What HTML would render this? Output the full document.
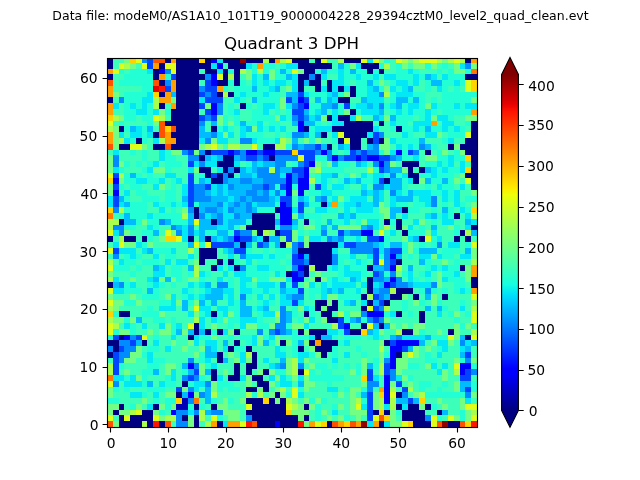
<!DOCTYPE html>
<html lang="en"><head><meta charset="utf-8"><title>Quadrant 3 DPH</title>
<style>
html,body{margin:0;padding:0;background:#fff;}
body{width:640px;height:480px;overflow:hidden;}
svg{display:block;}
text{font-family:"DejaVu Sans","Liberation Sans",sans-serif;fill:#000;}
.t{font-size:13.89px;}
</style></head>
<body>
<svg width="640" height="480" viewBox="0 0 640 480">
<rect width="640" height="480" fill="#fff"/>
<text x="320.5" y="19.8" font-size="12.5px" text-anchor="middle">Data file: modeM0/AS1A10_101T19_9000004228_29394cztM0_level2_quad_clean.evt</text>
<text x="291.5" y="49.2" font-size="16.67px" text-anchor="middle">Quadrant 3 DPH</text>
<g shape-rendering="crispEdges">
<path fill="#000080" d="M107 58h6v5h-6zM165 58h6v5h-6zM176 58h23v5h-23zM205 58h6v5h-6zM223 58h17v5h-17zM246 58h17v5h-17zM269 58h6v5h-6zM292 58h17v5h-17zM315 58h6v5h-6zM344 58h17v5h-17zM465 58h6v5h-6zM107 63h6v6h-6zM159 63h6v6h-6zM176 63h35v6h-35zM228 63h18v6h-18zM298 63h34v6h-34zM361 63h18v6h-18zM153 69h6v5h-6zM176 69h23v5h-23zM205 69h12v5h-12zM223 69h5v5h-5zM234 69h6v5h-6zM304 69h11v5h-11zM367 69h6v5h-6zM379 69h5v5h-5zM107 74h6v6h-6zM153 74h6v6h-6zM176 74h29v6h-29zM223 74h5v6h-5zM234 74h6v6h-6zM298 74h11v6h-11zM315 74h6v6h-6zM465 74h12v6h-12zM159 80h6v6h-6zM176 80h23v6h-23zM217 80h11v6h-11zM234 80h6v6h-6zM298 80h6v6h-6zM309 80h12v6h-12zM327 80h5v6h-5zM176 86h23v6h-23zM298 86h6v6h-6zM315 86h6v6h-6zM327 86h5v6h-5zM338 86h6v6h-6zM350 86h6v6h-6zM159 92h6v5h-6zM176 92h23v5h-23zM217 92h6v5h-6zM228 92h6v5h-6zM350 92h6v5h-6zM107 97h6v6h-6zM176 97h23v6h-23zM338 97h12v6h-12zM159 103h6v6h-6zM176 103h23v6h-23zM240 103h6v6h-6zM171 109h28v6h-28zM350 109h6v6h-6zM171 115h28v6h-28zM327 115h5v6h-5zM338 115h12v6h-12zM165 121h34v5h-34zM344 121h29v5h-29zM379 121h5v5h-5zM471 121h6v5h-6zM119 126h5v6h-5zM176 126h23v6h-23zM211 126h6v6h-6zM304 126h5v6h-5zM332 126h41v6h-41zM396 126h6v6h-6zM471 126h6v6h-6zM153 132h6v6h-6zM171 132h28v6h-28zM321 132h6v6h-6zM344 132h23v6h-23zM471 132h6v6h-6zM136 138h6v6h-6zM176 138h23v6h-23zM338 138h6v6h-6zM350 138h11v6h-11zM367 138h6v6h-6zM379 138h5v6h-5zM465 138h12v6h-12zM119 144h11v6h-11zM153 144h12v6h-12zM171 144h28v6h-28zM263 144h12v6h-12zM327 144h5v6h-5zM350 144h11v6h-11zM448 144h6v6h-6zM460 144h17v6h-17zM205 150h6v5h-6zM425 150h6v5h-6zM465 150h12v5h-12zM199 155h6v6h-6zM223 155h11v6h-11zM269 155h6v6h-6zM471 155h6v6h-6zM217 161h17v6h-17zM402 161h17v6h-17zM471 161h6v6h-6zM199 167h12v6h-12zM223 167h5v6h-5zM234 167h6v6h-6zM408 167h5v6h-5zM419 167h6v6h-6zM471 167h6v6h-6zM205 173h6v5h-6zM217 173h6v5h-6zM228 173h6v5h-6zM408 173h11v5h-11zM465 173h12v5h-12zM211 178h12v6h-12zM384 178h6v6h-6zM413 178h6v6h-6zM471 178h6v6h-6zM471 184h6v6h-6zM321 202h6v5h-6zM194 207h5v6h-5zM275 207h5v6h-5zM402 207h6v6h-6zM194 213h5v6h-5zM252 213h23v6h-23zM454 213h6v6h-6zM119 219h5v6h-5zM211 219h6v6h-6zM252 219h23v6h-23zM304 219h5v6h-5zM384 219h6v6h-6zM396 219h6v6h-6zM246 225h29v5h-29zM396 225h6v5h-6zM471 225h6v5h-6zM257 230h6v6h-6zM275 230h5v6h-5zM402 230h6v6h-6zM460 230h5v6h-5zM107 236h6v6h-6zM124 236h12v6h-12zM142 236h5v6h-5zM188 236h6v6h-6zM205 236h6v6h-6zM263 236h6v6h-6zM419 236h6v6h-6zM454 236h6v6h-6zM465 236h6v6h-6zM240 242h6v6h-6zM280 242h6v6h-6zM309 242h29v6h-29zM199 248h18v6h-18zM298 248h34v6h-34zM199 254h18v5h-18zM309 254h23v5h-23zM199 259h6v6h-6zM217 259h6v6h-6zM228 259h6v6h-6zM309 259h23v6h-23zM396 259h6v6h-6zM211 265h6v6h-6zM234 265h6v6h-6zM304 265h5v6h-5zM315 265h12v6h-12zM367 265h6v6h-6zM460 265h5v6h-5zM286 271h6v6h-6zM304 271h5v6h-5zM315 277h6v5h-6zM367 277h6v5h-6zM471 277h6v5h-6zM107 282h6v6h-6zM367 282h6v6h-6zM471 282h6v6h-6zM367 288h6v6h-6zM396 288h17v6h-17zM361 294h6v6h-6zM390 294h12v6h-12zM413 294h6v6h-6zM442 294h6v6h-6zM315 300h12v6h-12zM332 300h6v6h-6zM367 300h6v6h-6zM384 300h6v6h-6zM315 306h6v5h-6zM327 306h11v5h-11zM361 306h6v5h-6zM119 311h11v6h-11zM211 311h6v6h-6zM304 311h5v6h-5zM321 311h11v6h-11zM396 311h6v6h-6zM419 311h6v6h-6zM327 317h11v6h-11zM419 317h6v6h-6zM194 323h5v6h-5zM361 323h6v6h-6zM379 323h5v6h-5zM194 329h5v6h-5zM205 329h6v6h-6zM217 329h6v6h-6zM234 329h6v6h-6zM298 329h6v6h-6zM309 329h18v6h-18zM350 329h11v6h-11zM402 329h11v6h-11zM448 329h6v6h-6zM119 335h5v5h-5zM188 335h6v5h-6zM315 335h6v5h-6zM465 335h6v5h-6zM107 340h12v6h-12zM142 340h5v6h-5zM234 340h6v6h-6zM280 340h6v6h-6zM309 340h6v6h-6zM321 340h17v6h-17zM384 340h6v6h-6zM113 346h6v6h-6zM228 346h6v6h-6zM246 346h6v6h-6zM298 346h6v6h-6zM315 346h17v6h-17zM107 352h6v6h-6zM217 352h6v6h-6zM252 352h5v6h-5zM321 352h6v6h-6zM396 352h6v6h-6zM217 358h6v5h-6zM252 358h5v5h-5zM234 363h6v6h-6zM246 363h11v6h-11zM211 369h6v6h-6zM234 369h6v6h-6zM246 369h6v6h-6zM263 369h6v6h-6zM298 369h6v6h-6zM211 375h6v6h-6zM228 375h12v6h-12zM252 375h11v6h-11zM182 381h6v6h-6zM257 381h12v6h-12zM246 387h11v5h-11zM263 387h6v5h-6zM176 392h6v6h-6zM275 392h5v6h-5zM396 392h6v6h-6zM246 398h17v6h-17zM269 398h6v6h-6zM280 398h6v6h-6zM119 404h5v6h-5zM153 404h6v6h-6zM194 404h5v6h-5zM211 404h6v6h-6zM252 404h34v6h-34zM304 404h5v6h-5zM396 404h6v6h-6zM408 404h11v6h-11zM425 404h6v6h-6zM113 410h6v5h-6zM142 410h11v5h-11zM246 410h40v5h-40zM373 410h6v5h-6zM384 410h6v5h-6zM402 410h23v5h-23zM437 410h5v5h-5zM119 415h5v6h-5zM130 415h23v6h-23zM182 415h6v6h-6zM194 415h5v6h-5zM252 415h46v6h-46zM304 415h5v6h-5zM402 415h23v6h-23zM119 421h23v6h-23zM147 421h6v6h-6zM159 421h6v6h-6zM194 421h5v6h-5zM217 421h6v6h-6zM257 421h18v6h-18zM280 421h18v6h-18zM327 421h5v6h-5zM379 421h5v6h-5zM413 421h18v6h-18zM448 421h12v6h-12z"/>
<path fill="#0000fa" d="M211 58h6v5h-6zM217 63h6v6h-6zM159 69h6v5h-6zM211 74h6v6h-6zM211 80h6v6h-6zM298 97h6v6h-6zM211 103h6v6h-6zM304 103h5v6h-5zM211 109h6v6h-6zM298 121h6v5h-6zM298 126h6v6h-6zM228 150h6v5h-6zM246 150h11v5h-11zM263 150h12v5h-12zM321 150h6v5h-6zM396 150h6v5h-6zM332 155h6v6h-6zM356 155h5v6h-5zM367 155h12v6h-12zM309 161h6v6h-6zM379 161h5v6h-5zM304 167h5v6h-5zM286 173h6v5h-6zM304 173h5v5h-5zM113 178h6v6h-6zM286 178h6v6h-6zM298 178h11v6h-11zM286 184h6v6h-6zM298 184h11v6h-11zM113 190h6v6h-6zM286 190h6v6h-6zM298 190h6v6h-6zM280 202h6v5h-6zM280 207h12v6h-12zM280 213h12v6h-12zM280 219h12v6h-12zM361 230h12v6h-12zM234 236h6v6h-6zM379 236h5v6h-5zM298 254h6v5h-6zM390 254h6v5h-6zM298 265h6v6h-6zM390 265h6v6h-6zM292 271h6v6h-6zM292 277h12v5h-12zM390 277h6v5h-6zM384 282h6v6h-6zM367 311h17v6h-17zM344 323h6v6h-6zM124 335h6v5h-6zM396 340h23v6h-23zM390 346h12v6h-12zM390 352h6v6h-6zM390 358h6v5h-6zM188 363h6v6h-6zM390 363h6v6h-6zM460 363h11v6h-11zM460 369h5v6h-5zM384 375h6v6h-6zM384 381h6v6h-6zM384 387h6v5h-6zM188 392h6v6h-6zM384 392h6v6h-6zM384 398h6v6h-6zM171 410h5v5h-5zM275 421h5v6h-5z"/>
<path fill="#0044ff" d="M147 58h6v5h-6zM147 63h6v6h-6zM171 74h5v6h-5zM205 80h6v6h-6zM165 86h6v6h-6zM205 86h12v6h-12zM199 92h6v5h-6zM211 92h6v5h-6zM298 92h6v5h-6zM205 97h18v6h-18zM286 97h6v6h-6zM304 97h5v6h-5zM199 103h6v6h-6zM298 103h6v6h-6zM344 103h6v6h-6zM205 109h6v6h-6zM292 109h12v6h-12zM199 115h6v6h-6zM211 115h6v6h-6zM298 115h6v6h-6zM373 132h6v6h-6zM373 138h6v6h-6zM315 144h6v6h-6zM188 150h6v5h-6zM211 150h17v5h-17zM234 150h6v5h-6zM257 150h6v5h-6zM275 150h17v5h-17zM298 150h17v5h-17zM350 150h6v5h-6zM361 150h6v5h-6zM408 150h5v5h-5zM246 155h11v6h-11zM263 155h6v6h-6zM304 155h11v6h-11zM344 155h12v6h-12zM361 155h6v6h-6zM379 155h11v6h-11zM188 161h6v6h-6zM304 161h5v6h-5zM292 167h12v6h-12zM379 167h5v6h-5zM113 173h6v5h-6zM188 173h6v5h-6zM211 173h6v5h-6zM298 173h6v5h-6zM188 178h6v6h-6zM379 178h5v6h-5zM113 184h6v6h-6zM188 184h6v6h-6zM205 184h6v6h-6zM263 184h6v6h-6zM280 184h6v6h-6zM315 184h6v6h-6zM188 190h6v6h-6zM113 196h6v6h-6zM188 196h6v6h-6zM280 196h12v6h-12zM113 202h6v5h-6zM188 202h6v5h-6zM286 202h6v5h-6zM298 202h6v5h-6zM298 207h6v6h-6zM234 230h6v6h-6zM280 230h12v6h-12zM338 230h6v6h-6zM240 236h12v6h-12zM286 236h6v6h-6zM367 236h12v6h-12zM211 242h23v6h-23zM257 242h6v6h-6zM298 242h6v6h-6zM344 242h12v6h-12zM113 248h6v6h-6zM234 248h12v6h-12zM373 248h6v6h-6zM390 248h12v6h-12zM292 254h6v5h-6zM373 254h6v5h-6zM292 259h12v6h-12zM373 259h6v6h-6zM390 259h6v6h-6zM298 271h6v6h-6zM373 271h6v6h-6zM292 282h6v6h-6zM390 282h6v6h-6zM298 288h6v6h-6zM373 294h6v6h-6zM292 300h6v6h-6zM379 300h5v6h-5zM373 306h6v5h-6zM338 317h6v6h-6zM373 317h6v6h-6zM338 323h6v6h-6zM275 329h5v6h-5zM344 329h6v6h-6zM113 335h6v5h-6zM136 335h6v5h-6zM130 340h6v6h-6zM390 340h6v6h-6zM119 346h5v6h-5zM402 346h6v6h-6zM113 352h6v6h-6zM465 352h6v6h-6zM113 358h6v5h-6zM113 363h6v6h-6zM384 363h6v6h-6zM113 369h6v6h-6zM194 369h5v6h-5zM367 369h6v6h-6zM384 369h6v6h-6zM465 369h6v6h-6zM188 375h6v6h-6zM367 375h6v6h-6zM460 375h11v6h-11zM396 381h6v6h-6zM176 387h6v5h-6zM402 387h6v5h-6zM465 387h6v5h-6zM367 392h6v6h-6zM367 398h6v6h-6zM408 398h5v6h-5zM367 404h6v6h-6zM367 410h6v5h-6zM367 415h6v6h-6z"/>
<path fill="#008cff" d="M142 58h5v5h-5zM465 63h6v6h-6zM165 69h6v5h-6zM205 74h6v6h-6zM309 74h6v6h-6zM165 80h6v6h-6zM199 86h6v6h-6zM205 92h6v5h-6zM379 92h5v5h-5zM119 97h5v6h-5zM217 103h6v6h-6zM292 103h6v6h-6zM332 103h6v6h-6zM379 103h5v6h-5zM217 109h6v6h-6zM205 115h6v6h-6zM292 115h6v6h-6zM304 115h5v6h-5zM199 121h6v5h-6zM211 132h6v6h-6zM292 132h12v6h-12zM379 132h5v6h-5zM205 138h6v6h-6zM240 138h12v6h-12zM292 144h6v6h-6zM304 144h11v6h-11zM373 144h6v6h-6zM419 144h6v6h-6zM182 150h6v5h-6zM199 150h6v5h-6zM240 150h6v5h-6zM315 150h6v5h-6zM327 150h5v5h-5zM356 150h5v5h-5zM367 150h12v5h-12zM413 150h6v5h-6zM113 155h6v6h-6zM188 155h11v6h-11zM240 155h6v6h-6zM257 155h6v6h-6zM275 155h23v6h-23zM327 155h5v6h-5zM338 155h6v6h-6zM390 155h6v6h-6zM113 161h6v6h-6zM199 161h6v6h-6zM275 161h11v6h-11zM298 161h6v6h-6zM373 161h6v6h-6zM384 161h6v6h-6zM228 167h6v6h-6zM257 167h12v6h-12zM275 167h5v6h-5zM384 167h6v6h-6zM223 173h5v5h-5zM257 173h23v5h-23zM292 173h6v5h-6zM390 173h6v5h-6zM223 178h5v6h-5zM240 178h12v6h-12zM263 178h23v6h-23zM292 178h6v6h-6zM194 184h11v6h-11zM228 184h6v6h-6zM252 184h11v6h-11zM269 184h6v6h-6zM373 184h11v6h-11zM194 190h11v6h-11zM246 190h11v6h-11zM263 190h6v6h-6zM275 190h5v6h-5zM390 190h6v6h-6zM194 196h17v6h-17zM240 196h6v6h-6zM252 196h17v6h-17zM321 196h6v6h-6zM431 196h6v6h-6zM217 202h6v5h-6zM234 202h6v5h-6zM246 202h6v5h-6zM431 202h6v5h-6zM113 207h6v6h-6zM188 207h6v6h-6zM205 207h12v6h-12zM228 207h6v6h-6zM246 207h6v6h-6zM199 213h6v6h-6zM217 213h6v6h-6zM234 213h6v6h-6zM159 219h6v6h-6zM217 219h6v6h-6zM113 225h11v5h-11zM171 225h5v5h-5zM188 225h6v5h-6zM280 225h12v5h-12zM367 225h6v5h-6zM119 230h5v6h-5zM176 230h6v6h-6zM188 230h6v6h-6zM240 230h12v6h-12zM321 230h6v6h-6zM350 230h11v6h-11zM228 236h6v6h-6zM327 236h5v6h-5zM338 236h6v6h-6zM263 242h6v6h-6zM292 242h6v6h-6zM356 242h17v6h-17zM437 242h5v6h-5zM292 248h6v6h-6zM350 248h23v6h-23zM384 248h6v6h-6zM113 254h6v5h-6zM240 254h6v5h-6zM332 254h6v5h-6zM384 254h6v5h-6zM304 259h5v6h-5zM332 259h6v6h-6zM384 259h6v6h-6zM240 265h6v6h-6zM292 265h6v6h-6zM384 265h6v6h-6zM379 271h5v6h-5zM390 271h6v6h-6zM373 277h11v5h-11zM396 277h6v5h-6zM119 282h5v6h-5zM217 282h11v6h-11zM280 282h6v6h-6zM396 282h12v6h-12zM431 282h6v6h-6zM379 288h11v6h-11zM425 288h6v6h-6zM240 294h6v6h-6zM292 294h12v6h-12zM379 294h5v6h-5zM280 306h6v5h-6zM379 306h5v5h-5zM280 311h6v6h-6zM361 311h6v6h-6zM280 317h6v6h-6zM356 317h5v6h-5zM367 317h6v6h-6zM379 317h5v6h-5zM275 323h11v6h-11zM257 329h6v6h-6zM269 329h6v6h-6zM280 329h6v6h-6zM130 335h6v5h-6zM396 335h6v5h-6zM119 340h11v6h-11zM460 340h5v6h-5zM107 346h6v6h-6zM124 346h12v6h-12zM119 352h11v6h-11zM119 358h5v5h-5zM188 358h6v5h-6zM384 358h6v5h-6zM465 358h6v5h-6zM194 363h5v6h-5zM280 363h6v6h-6zM298 363h6v6h-6zM390 369h6v6h-6zM471 369h6v6h-6zM182 375h6v6h-6zM194 375h5v6h-5zM390 375h6v6h-6zM113 381h6v6h-6zM205 381h6v6h-6zM367 381h12v6h-12zM188 387h6v5h-6zM367 387h6v5h-6zM199 392h6v6h-6zM402 392h6v6h-6zM465 392h6v6h-6zM188 398h6v6h-6zM176 410h12v5h-12zM194 410h5v5h-5zM211 410h12v5h-12zM176 415h6v6h-6zM246 415h6v6h-6zM425 415h6v6h-6zM176 421h12v6h-12z"/>
<path fill="#00bcff" d="M338 63h6v6h-6zM280 69h6v5h-6zM321 69h6v5h-6zM350 69h6v5h-6zM263 74h6v6h-6zM286 74h6v6h-6zM425 74h6v6h-6zM304 80h5v6h-5zM367 80h6v6h-6zM431 80h11v6h-11zM252 86h5v6h-5zM275 86h5v6h-5zM373 86h6v6h-6zM408 86h5v6h-5zM171 92h5v5h-5zM286 92h12v5h-12zM332 92h6v5h-6zM252 97h5v6h-5zM292 97h6v6h-6zM315 97h6v6h-6zM327 97h5v6h-5zM361 97h6v6h-6zM396 97h12v6h-12zM413 97h6v6h-6zM321 103h11v6h-11zM367 103h6v6h-6zM396 103h6v6h-6zM304 109h5v6h-5zM321 109h6v6h-6zM379 109h5v6h-5zM315 115h6v6h-6zM373 115h6v6h-6zM390 115h6v6h-6zM211 121h6v5h-6zM240 121h6v5h-6zM292 121h6v5h-6zM304 121h11v5h-11zM130 126h6v6h-6zM147 126h6v6h-6zM199 126h6v6h-6zM246 126h6v6h-6zM425 126h6v6h-6zM199 132h12v6h-12zM304 132h5v6h-5zM315 132h6v6h-6zM292 138h6v6h-6zM419 138h6v6h-6zM298 144h6v6h-6zM321 144h6v6h-6zM338 144h6v6h-6zM367 144h6v6h-6zM425 144h6v6h-6zM205 155h6v6h-6zM217 155h6v6h-6zM234 155h6v6h-6zM396 155h6v6h-6zM252 161h5v6h-5zM263 161h12v6h-12zM332 161h6v6h-6zM356 161h5v6h-5zM240 167h6v6h-6zM252 167h5v6h-5zM280 167h12v6h-12zM390 167h12v6h-12zM425 167h6v6h-6zM130 173h6v5h-6zM240 173h12v5h-12zM332 173h6v5h-6zM199 178h6v6h-6zM228 178h12v6h-12zM252 178h11v6h-11zM344 178h6v6h-6zM356 178h5v6h-5zM390 178h12v6h-12zM425 178h6v6h-6zM442 178h6v6h-6zM217 184h6v6h-6zM234 184h18v6h-18zM390 184h12v6h-12zM205 190h6v6h-6zM217 190h6v6h-6zM228 190h18v6h-18zM257 190h6v6h-6zM361 190h6v6h-6zM373 190h6v6h-6zM408 190h5v6h-5zM119 196h5v6h-5zM182 196h6v6h-6zM211 196h17v6h-17zM234 196h6v6h-6zM246 196h6v6h-6zM269 196h6v6h-6zM298 196h6v6h-6zM315 196h6v6h-6zM373 196h6v6h-6zM396 196h17v6h-17zM124 202h6v5h-6zM199 202h18v5h-18zM228 202h6v5h-6zM240 202h6v5h-6zM257 202h18v5h-18zM304 202h5v5h-5zM356 202h5v5h-5zM373 202h6v5h-6zM199 207h6v6h-6zM217 207h6v6h-6zM234 207h12v6h-12zM252 207h5v6h-5zM390 207h12v6h-12zM442 207h6v6h-6zM124 213h6v6h-6zM188 213h6v6h-6zM211 213h6v6h-6zM240 213h12v6h-12zM298 213h6v6h-6zM338 213h6v6h-6zM350 213h6v6h-6zM390 213h6v6h-6zM431 213h6v6h-6zM124 219h12v6h-12zM165 219h6v6h-6zM188 219h6v6h-6zM199 219h12v6h-12zM228 219h18v6h-18zM275 219h5v6h-5zM292 219h6v6h-6zM327 219h5v6h-5zM465 219h6v6h-6zM176 225h6v5h-6zM199 225h18v5h-18zM228 225h6v5h-6zM321 225h6v5h-6zM332 225h6v5h-6zM361 225h6v5h-6zM431 225h6v5h-6zM153 230h6v6h-6zM199 230h6v6h-6zM217 230h11v6h-11zM344 230h6v6h-6zM471 230h6v6h-6zM199 236h6v6h-6zM211 236h6v6h-6zM223 236h5v6h-5zM252 236h5v6h-5zM269 236h11v6h-11zM332 236h6v6h-6zM413 236h6v6h-6zM188 242h6v6h-6zM234 242h6v6h-6zM246 242h6v6h-6zM275 242h5v6h-5zM373 242h6v6h-6zM390 242h12v6h-12zM147 248h6v6h-6zM228 248h6v6h-6zM419 248h18v6h-18zM465 248h6v6h-6zM304 254h5v5h-5zM396 254h6v5h-6zM419 259h6v6h-6zM153 265h6v6h-6zM188 265h6v6h-6zM373 265h11v6h-11zM408 265h5v6h-5zM153 277h6v5h-6zM165 277h6v5h-6zM350 277h6v5h-6zM384 277h6v5h-6zM113 282h6v6h-6zM205 282h6v6h-6zM379 282h5v6h-5zM408 282h5v6h-5zM147 288h6v6h-6zM211 288h12v6h-12zM280 288h6v6h-6zM327 288h5v6h-5zM338 288h6v6h-6zM373 288h6v6h-6zM205 294h18v6h-18zM286 294h6v6h-6zM384 294h6v6h-6zM425 294h6v6h-6zM182 300h6v6h-6zM199 300h6v6h-6zM211 300h6v6h-6zM240 300h6v6h-6zM350 300h6v6h-6zM373 300h6v6h-6zM182 306h6v5h-6zM240 306h12v5h-12zM263 306h6v5h-6zM425 306h6v5h-6zM437 306h5v5h-5zM240 311h12v6h-12zM286 311h6v6h-6zM136 317h6v6h-6zM286 317h6v6h-6zM350 317h6v6h-6zM373 323h6v6h-6zM384 323h6v6h-6zM176 329h6v6h-6zM188 329h6v6h-6zM199 329h6v6h-6zM286 329h6v6h-6zM367 329h6v6h-6zM321 335h11v5h-11zM390 335h6v5h-6zM425 335h6v5h-6zM460 335h5v5h-5zM136 340h6v6h-6zM223 340h5v6h-5zM263 340h6v6h-6zM298 340h6v6h-6zM419 340h6v6h-6zM471 340h6v6h-6zM205 346h6v6h-6zM408 346h5v6h-5zM465 346h6v6h-6zM205 352h12v6h-12zM460 352h5v6h-5zM223 358h5v5h-5zM280 358h6v5h-6zM182 363h6v6h-6zM275 363h5v6h-5zM367 363h6v6h-6zM153 369h6v6h-6zM188 369h6v6h-6zM205 369h6v6h-6zM147 381h6v6h-6zM298 381h6v6h-6zM460 381h11v6h-11zM205 387h6v5h-6zM460 387h5v5h-5zM182 392h6v6h-6zM205 392h6v6h-6zM361 392h6v6h-6zM205 398h6v6h-6zM396 398h12v6h-12zM413 398h6v6h-6zM205 410h6v5h-6zM442 410h6v5h-6z"/>
<path fill="#02e8f4" d="M217 58h6v5h-6zM367 58h6v5h-6zM211 63h6v6h-6zM246 63h6v6h-6zM286 63h12v6h-12zM356 63h5v6h-5zM460 63h5v6h-5zM147 69h6v5h-6zM217 69h6v5h-6zM338 69h6v5h-6zM408 69h5v5h-5zM252 74h5v6h-5zM292 74h6v6h-6zM321 74h6v6h-6zM338 74h6v6h-6zM356 74h5v6h-5zM373 74h6v6h-6zM384 74h12v6h-12zM413 74h6v6h-6zM431 74h6v6h-6zM442 74h6v6h-6zM252 80h5v6h-5zM263 80h6v6h-6zM275 80h11v6h-11zM292 80h6v6h-6zM332 80h12v6h-12zM396 80h12v6h-12zM413 80h6v6h-6zM454 80h6v6h-6zM269 86h6v6h-6zM292 86h6v6h-6zM321 86h6v6h-6zM332 86h6v6h-6zM344 86h6v6h-6zM367 86h6v6h-6zM390 86h6v6h-6zM402 86h6v6h-6zM437 86h5v6h-5zM147 92h6v5h-6zM240 92h6v5h-6zM263 92h6v5h-6zM304 92h5v5h-5zM327 92h5v5h-5zM367 92h12v5h-12zM396 92h17v5h-17zM142 97h11v6h-11zM199 97h6v6h-6zM234 97h6v6h-6zM332 97h6v6h-6zM367 97h17v6h-17zM113 103h6v6h-6zM130 103h6v6h-6zM142 103h5v6h-5zM263 103h12v6h-12zM286 103h6v6h-6zM356 103h11v6h-11zM373 103h6v6h-6zM390 103h6v6h-6zM408 103h11v6h-11zM431 103h6v6h-6zM454 103h6v6h-6zM465 103h12v6h-12zM136 109h11v6h-11zM153 109h6v6h-6zM234 109h6v6h-6zM263 109h6v6h-6zM315 109h6v6h-6zM332 109h6v6h-6zM361 109h18v6h-18zM396 109h6v6h-6zM408 109h5v6h-5zM425 109h6v6h-6zM280 115h6v6h-6zM309 115h6v6h-6zM332 115h6v6h-6zM350 115h6v6h-6zM379 115h5v6h-5zM425 115h6v6h-6zM437 115h11v6h-11zM257 121h6v5h-6zM332 121h12v5h-12zM390 121h6v5h-6zM413 121h18v5h-18zM442 121h12v5h-12zM136 126h6v6h-6zM223 126h5v6h-5zM240 126h6v6h-6zM257 126h6v6h-6zM269 126h6v6h-6zM280 126h6v6h-6zM315 126h17v6h-17zM373 126h6v6h-6zM413 126h6v6h-6zM442 126h6v6h-6zM454 126h6v6h-6zM119 132h5v6h-5zM130 132h12v6h-12zM147 132h6v6h-6zM217 132h6v6h-6zM228 132h6v6h-6zM240 132h6v6h-6zM332 132h6v6h-6zM367 132h6v6h-6zM402 132h6v6h-6zM425 132h12v6h-12zM124 138h6v6h-6zM153 138h6v6h-6zM199 138h6v6h-6zM217 138h11v6h-11zM252 138h5v6h-5zM275 138h5v6h-5zM390 138h6v6h-6zM448 138h6v6h-6zM344 144h6v6h-6zM396 144h6v6h-6zM408 144h5v6h-5zM113 150h6v5h-6zM159 150h6v5h-6zM390 150h6v5h-6zM159 155h6v6h-6zM211 155h6v6h-6zM413 155h6v6h-6zM448 155h6v6h-6zM153 161h6v6h-6zM194 161h5v6h-5zM205 161h12v6h-12zM234 161h6v6h-6zM257 161h6v6h-6zM361 161h6v6h-6zM437 161h5v6h-5zM448 161h6v6h-6zM460 161h5v6h-5zM113 167h6v6h-6zM147 167h6v6h-6zM188 167h6v6h-6zM217 167h6v6h-6zM246 167h6v6h-6zM431 167h6v6h-6zM442 167h6v6h-6zM460 167h5v6h-5zM165 173h11v5h-11zM252 173h5v5h-5zM280 173h6v5h-6zM321 173h11v5h-11zM361 173h6v5h-6zM373 173h11v5h-11zM402 173h6v5h-6zM431 173h6v5h-6zM136 178h11v6h-11zM159 178h6v6h-6zM176 178h6v6h-6zM205 178h6v6h-6zM321 178h6v6h-6zM350 178h6v6h-6zM373 178h6v6h-6zM408 178h5v6h-5zM153 184h6v6h-6zM182 184h6v6h-6zM211 184h6v6h-6zM223 184h5v6h-5zM321 184h6v6h-6zM332 184h12v6h-12zM361 184h6v6h-6zM384 184h6v6h-6zM437 184h5v6h-5zM460 184h5v6h-5zM124 190h6v6h-6zM182 190h6v6h-6zM211 190h6v6h-6zM223 190h5v6h-5zM269 190h6v6h-6zM280 190h6v6h-6zM321 190h11v6h-11zM367 190h6v6h-6zM379 190h5v6h-5zM396 190h6v6h-6zM413 190h18v6h-18zM442 190h6v6h-6zM454 190h6v6h-6zM107 196h6v6h-6zM228 196h6v6h-6zM275 196h5v6h-5zM304 196h5v6h-5zM332 196h6v6h-6zM350 196h17v6h-17zM379 196h5v6h-5zM390 196h6v6h-6zM419 196h12v6h-12zM442 196h6v6h-6zM454 196h6v6h-6zM107 202h6v5h-6zM119 202h5v5h-5zM153 202h6v5h-6zM171 202h5v5h-5zM182 202h6v5h-6zM223 202h5v5h-5zM252 202h5v5h-5zM327 202h5v5h-5zM344 202h12v5h-12zM361 202h12v5h-12zM390 202h6v5h-6zM425 202h6v5h-6zM454 202h6v5h-6zM159 207h6v6h-6zM223 207h5v6h-5zM292 207h6v6h-6zM315 207h12v6h-12zM344 207h6v6h-6zM356 207h17v6h-17zM460 207h5v6h-5zM147 213h6v6h-6zM205 213h6v6h-6zM223 213h11v6h-11zM344 213h6v6h-6zM402 213h6v6h-6zM425 213h6v6h-6zM442 213h6v6h-6zM465 213h6v6h-6zM223 219h5v6h-5zM344 219h6v6h-6zM367 219h12v6h-12zM413 219h6v6h-6zM442 219h12v6h-12zM471 219h6v6h-6zM147 225h6v5h-6zM182 225h6v5h-6zM217 225h11v5h-11zM292 225h6v5h-6zM373 225h6v5h-6zM408 225h5v5h-5zM465 225h6v5h-6zM113 230h6v6h-6zM182 230h6v6h-6zM194 230h5v6h-5zM390 230h6v6h-6zM431 230h6v6h-6zM182 236h6v6h-6zM217 236h6v6h-6zM257 236h6v6h-6zM298 236h6v6h-6zM309 236h12v6h-12zM356 236h5v6h-5zM408 236h5v6h-5zM437 236h5v6h-5zM113 242h6v6h-6zM136 242h6v6h-6zM338 242h6v6h-6zM379 242h5v6h-5zM448 242h12v6h-12zM119 248h17v6h-17zM142 248h5v6h-5zM171 248h5v6h-5zM223 248h5v6h-5zM332 248h6v6h-6zM379 248h5v6h-5zM130 254h6v5h-6zM153 254h6v5h-6zM188 254h6v5h-6zM228 254h6v5h-6zM246 254h17v5h-17zM269 254h6v5h-6zM350 254h6v5h-6zM367 254h6v5h-6zM419 254h12v5h-12zM437 254h5v5h-5zM460 254h11v5h-11zM119 259h5v6h-5zM165 259h6v6h-6zM176 259h12v6h-12zM246 259h6v6h-6zM356 259h5v6h-5zM159 265h6v6h-6zM217 265h6v6h-6zM228 265h6v6h-6zM257 265h12v6h-12zM332 265h6v6h-6zM344 265h6v6h-6zM431 265h6v6h-6zM442 265h6v6h-6zM153 271h12v6h-12zM199 271h6v6h-6zM223 271h5v6h-5zM234 271h12v6h-12zM275 271h5v6h-5zM344 271h17v6h-17zM408 271h5v6h-5zM425 271h6v6h-6zM454 271h6v6h-6zM113 277h6v5h-6zM147 277h6v5h-6zM217 277h6v5h-6zM240 277h12v5h-12zM286 277h6v5h-6zM332 277h6v5h-6zM356 277h5v5h-5zM408 277h5v5h-5zM442 277h6v5h-6zM130 282h6v6h-6zM153 282h6v6h-6zM188 282h6v6h-6zM199 282h6v6h-6zM240 282h6v6h-6zM257 282h18v6h-18zM309 282h6v6h-6zM321 282h6v6h-6zM332 282h24v6h-24zM361 282h6v6h-6zM373 282h6v6h-6zM413 282h18v6h-18zM113 288h11v6h-11zM182 288h6v6h-6zM205 288h6v6h-6zM223 288h11v6h-11zM240 288h12v6h-12zM263 288h6v6h-6zM286 288h12v6h-12zM321 288h6v6h-6zM332 288h6v6h-6zM356 288h5v6h-5zM460 288h5v6h-5zM171 294h5v6h-5zM188 294h6v6h-6zM199 294h6v6h-6zM228 294h6v6h-6zM257 294h6v6h-6zM269 294h6v6h-6zM280 294h6v6h-6zM321 294h6v6h-6zM171 300h5v6h-5zM228 300h6v6h-6zM263 300h6v6h-6zM280 300h12v6h-12zM298 300h6v6h-6zM344 300h6v6h-6zM361 300h6v6h-6zM159 306h17v5h-17zM199 306h12v5h-12zM217 306h11v5h-11zM257 306h6v5h-6zM304 306h5v5h-5zM460 306h5v5h-5zM188 311h6v6h-6zM205 311h6v6h-6zM223 311h5v6h-5zM263 311h12v6h-12zM390 311h6v6h-6zM437 311h5v6h-5zM199 317h6v6h-6zM211 317h6v6h-6zM240 317h17v6h-17zM309 317h6v6h-6zM124 323h6v6h-6zM142 323h5v6h-5zM159 323h6v6h-6zM176 323h6v6h-6zM199 323h6v6h-6zM240 323h6v6h-6zM304 323h5v6h-5zM223 329h5v6h-5zM327 329h11v6h-11zM373 329h6v6h-6zM171 335h5v5h-5zM194 335h5v5h-5zM252 335h5v5h-5zM269 335h6v5h-6zM309 335h6v5h-6zM373 335h6v5h-6zM402 335h23v5h-23zM153 340h6v6h-6zM194 340h5v6h-5zM205 340h12v6h-12zM252 340h5v6h-5zM344 340h6v6h-6zM437 340h11v6h-11zM465 340h6v6h-6zM165 346h6v6h-6zM211 346h6v6h-6zM223 346h5v6h-5zM275 346h5v6h-5zM442 346h6v6h-6zM460 346h5v6h-5zM147 352h6v6h-6zM240 352h6v6h-6zM275 352h11v6h-11zM298 352h11v6h-11zM344 352h6v6h-6zM437 352h5v6h-5zM147 358h6v5h-6zM205 358h6v5h-6zM240 358h6v5h-6zM263 358h6v5h-6zM298 358h6v5h-6zM332 358h6v5h-6zM211 363h6v6h-6zM269 363h6v6h-6zM431 363h6v6h-6zM442 363h6v6h-6zM171 369h5v6h-5zM437 369h5v6h-5zM113 375h11v6h-11zM130 375h6v6h-6zM171 375h5v6h-5zM217 375h6v6h-6zM240 375h6v6h-6zM269 375h6v6h-6zM280 375h6v6h-6zM298 375h6v6h-6zM373 375h6v6h-6zM396 375h6v6h-6zM124 381h18v6h-18zM159 381h6v6h-6zM194 381h11v6h-11zM280 381h12v6h-12zM194 387h5v5h-5zM327 387h11v5h-11zM130 392h12v6h-12zM153 392h6v6h-6zM298 392h6v6h-6zM465 398h6v6h-6zM147 404h6v6h-6zM361 404h6v6h-6zM384 404h6v6h-6zM402 404h6v6h-6zM188 410h6v5h-6zM332 410h6v5h-6zM223 421h5v6h-5zM367 421h6v6h-6zM384 421h6v6h-6z"/>
<path fill="#23ffd4" d="M384 58h6v5h-6zM252 63h5v6h-5zM263 63h12v6h-12zM280 63h6v6h-6zM344 63h6v6h-6zM379 63h5v6h-5zM396 63h6v6h-6zM425 63h6v6h-6zM442 63h6v6h-6zM119 69h5v5h-5zM130 69h17v5h-17zM228 69h6v5h-6zM252 69h5v5h-5zM263 69h6v5h-6zM275 69h5v5h-5zM286 69h6v5h-6zM315 69h6v5h-6zM327 69h11v5h-11zM344 69h6v5h-6zM356 69h11v5h-11zM373 69h6v5h-6zM396 69h12v5h-12zM413 69h6v5h-6zM437 69h5v5h-5zM448 69h6v5h-6zM465 69h6v5h-6zM124 74h29v6h-29zM165 74h6v6h-6zM257 74h6v6h-6zM275 74h11v6h-11zM344 74h12v6h-12zM361 74h12v6h-12zM396 74h17v6h-17zM419 74h6v6h-6zM448 74h17v6h-17zM119 80h34v6h-34zM228 80h6v6h-6zM240 80h6v6h-6zM257 80h6v6h-6zM269 80h6v6h-6zM286 80h6v6h-6zM344 80h6v6h-6zM356 80h11v6h-11zM373 80h6v6h-6zM390 80h6v6h-6zM408 80h5v6h-5zM425 80h6v6h-6zM442 80h12v6h-12zM460 80h5v6h-5zM142 86h11v6h-11zM223 86h5v6h-5zM234 86h18v6h-18zM257 86h12v6h-12zM356 86h11v6h-11zM379 86h5v6h-5zM396 86h6v6h-6zM425 86h6v6h-6zM442 86h6v6h-6zM454 86h6v6h-6zM124 92h23v5h-23zM234 92h6v5h-6zM246 92h17v5h-17zM269 92h11v5h-11zM309 92h18v5h-18zM338 92h6v5h-6zM356 92h11v5h-11zM390 92h6v5h-6zM413 92h12v5h-12zM442 92h35v5h-35zM124 97h18v6h-18zM240 97h6v6h-6zM257 97h23v6h-23zM321 97h6v6h-6zM390 97h6v6h-6zM408 97h5v6h-5zM419 97h6v6h-6zM431 97h6v6h-6zM442 97h29v6h-29zM124 103h6v6h-6zM136 103h6v6h-6zM147 103h6v6h-6zM228 103h6v6h-6zM246 103h6v6h-6zM257 103h6v6h-6zM275 103h5v6h-5zM309 103h12v6h-12zM338 103h6v6h-6zM350 103h6v6h-6zM384 103h6v6h-6zM402 103h6v6h-6zM419 103h6v6h-6zM437 103h17v6h-17zM460 103h5v6h-5zM124 109h12v6h-12zM147 109h6v6h-6zM165 109h6v6h-6zM228 109h6v6h-6zM252 109h11v6h-11zM275 109h5v6h-5zM286 109h6v6h-6zM309 109h6v6h-6zM338 109h6v6h-6zM356 109h5v6h-5zM390 109h6v6h-6zM402 109h6v6h-6zM413 109h12v6h-12zM431 109h6v6h-6zM442 109h29v6h-29zM124 115h12v6h-12zM142 115h11v6h-11zM223 115h5v6h-5zM234 115h6v6h-6zM252 115h23v6h-23zM286 115h6v6h-6zM396 115h17v6h-17zM419 115h6v6h-6zM448 115h6v6h-6zM119 121h5v5h-5zM147 121h6v5h-6zM223 121h5v5h-5zM234 121h6v5h-6zM246 121h11v5h-11zM269 121h11v5h-11zM315 121h6v5h-6zM327 121h5v5h-5zM396 121h12v5h-12zM465 121h6v5h-6zM124 126h6v6h-6zM142 126h5v6h-5zM217 126h6v6h-6zM228 126h6v6h-6zM263 126h6v6h-6zM275 126h5v6h-5zM309 126h6v6h-6zM390 126h6v6h-6zM402 126h11v6h-11zM419 126h6v6h-6zM431 126h11v6h-11zM448 126h6v6h-6zM460 126h5v6h-5zM142 132h5v6h-5zM246 132h17v6h-17zM275 132h5v6h-5zM286 132h6v6h-6zM309 132h6v6h-6zM408 132h5v6h-5zM448 132h17v6h-17zM130 138h6v6h-6zM142 138h5v6h-5zM257 138h18v6h-18zM309 138h6v6h-6zM332 138h6v6h-6zM396 138h23v6h-23zM442 138h6v6h-6zM286 144h6v6h-6zM402 144h6v6h-6zM413 144h6v6h-6zM431 144h6v6h-6zM130 150h6v5h-6zM142 150h5v5h-5zM165 150h6v5h-6zM332 150h6v5h-6zM344 150h6v5h-6zM379 150h5v5h-5zM402 150h6v5h-6zM437 150h5v5h-5zM454 150h6v5h-6zM142 155h5v6h-5zM165 155h11v6h-11zM315 155h12v6h-12zM402 155h11v6h-11zM437 155h11v6h-11zM454 155h11v6h-11zM124 161h6v6h-6zM136 161h6v6h-6zM147 161h6v6h-6zM165 161h17v6h-17zM246 161h6v6h-6zM292 161h6v6h-6zM338 161h12v6h-12zM425 161h12v6h-12zM442 161h6v6h-6zM119 167h5v6h-5zM142 167h5v6h-5zM165 167h6v6h-6zM321 167h23v6h-23zM373 167h6v6h-6zM437 167h5v6h-5zM448 167h12v6h-12zM124 173h6v5h-6zM136 173h6v5h-6zM147 173h6v5h-6zM199 173h6v5h-6zM315 173h6v5h-6zM344 173h6v5h-6zM367 173h6v5h-6zM384 173h6v5h-6zM396 173h6v5h-6zM419 173h12v5h-12zM437 173h17v5h-17zM124 178h12v6h-12zM147 178h12v6h-12zM171 178h5v6h-5zM315 178h6v6h-6zM327 178h5v6h-5zM338 178h6v6h-6zM361 178h12v6h-12zM402 178h6v6h-6zM431 178h11v6h-11zM448 178h6v6h-6zM119 184h5v6h-5zM130 184h12v6h-12zM171 184h5v6h-5zM275 184h5v6h-5zM292 184h6v6h-6zM344 184h6v6h-6zM402 184h6v6h-6zM425 184h6v6h-6zM442 184h12v6h-12zM136 190h11v6h-11zM165 190h11v6h-11zM309 190h12v6h-12zM332 190h29v6h-29zM402 190h6v6h-6zM431 190h11v6h-11zM448 190h6v6h-6zM124 196h6v6h-6zM142 196h17v6h-17zM165 196h11v6h-11zM327 196h5v6h-5zM344 196h6v6h-6zM413 196h6v6h-6zM448 196h6v6h-6zM465 196h12v6h-12zM130 202h17v5h-17zM159 202h12v5h-12zM176 202h6v5h-6zM194 202h5v5h-5zM275 202h5v5h-5zM309 202h12v5h-12zM338 202h6v5h-6zM396 202h12v5h-12zM413 202h12v5h-12zM442 202h6v5h-6zM460 202h5v5h-5zM124 207h23v6h-23zM171 207h5v6h-5zM257 207h18v6h-18zM327 207h11v6h-11zM350 207h6v6h-6zM373 207h6v6h-6zM408 207h11v6h-11zM431 207h6v6h-6zM448 207h6v6h-6zM465 207h6v6h-6zM119 213h5v6h-5zM130 213h17v6h-17zM153 213h29v6h-29zM304 213h17v6h-17zM356 213h23v6h-23zM437 213h5v6h-5zM448 213h6v6h-6zM136 219h6v6h-6zM147 219h12v6h-12zM171 219h17v6h-17zM246 219h6v6h-6zM315 219h6v6h-6zM332 219h12v6h-12zM356 219h5v6h-5zM390 219h6v6h-6zM431 219h6v6h-6zM124 225h12v5h-12zM153 225h6v5h-6zM234 225h6v5h-6zM275 225h5v5h-5zM315 225h6v5h-6zM419 225h6v5h-6zM454 225h6v5h-6zM142 230h11v6h-11zM205 230h12v6h-12zM228 230h6v6h-6zM298 230h6v6h-6zM309 230h12v6h-12zM408 230h17v6h-17zM454 230h6v6h-6zM147 236h6v6h-6zM321 236h6v6h-6zM344 236h12v6h-12zM384 236h6v6h-6zM431 236h6v6h-6zM142 242h5v6h-5zM199 242h6v6h-6zM269 242h6v6h-6zM384 242h6v6h-6zM402 242h6v6h-6zM419 242h6v6h-6zM431 242h6v6h-6zM465 242h6v6h-6zM153 248h18v6h-18zM246 248h6v6h-6zM263 248h6v6h-6zM275 248h17v6h-17zM402 248h6v6h-6zM413 248h6v6h-6zM442 248h18v6h-18zM124 254h6v5h-6zM136 254h6v5h-6zM165 254h11v5h-11zM263 254h6v5h-6zM275 254h11v5h-11zM338 254h12v5h-12zM379 254h5v5h-5zM408 254h5v5h-5zM442 254h12v5h-12zM124 259h12v6h-12zM142 259h17v6h-17zM223 259h5v6h-5zM234 259h6v6h-6zM257 259h23v6h-23zM286 259h6v6h-6zM338 259h6v6h-6zM350 259h6v6h-6zM361 259h6v6h-6zM425 259h6v6h-6zM454 259h6v6h-6zM113 265h17v6h-17zM136 265h6v6h-6zM171 265h11v6h-11zM246 265h11v6h-11zM269 265h17v6h-17zM327 265h5v6h-5zM338 265h6v6h-6zM350 265h17v6h-17zM425 265h6v6h-6zM437 265h5v6h-5zM448 265h12v6h-12zM130 271h6v6h-6zM171 271h11v6h-11zM188 271h6v6h-6zM205 271h6v6h-6zM246 271h23v6h-23zM280 271h6v6h-6zM338 271h6v6h-6zM361 271h6v6h-6zM384 271h6v6h-6zM402 271h6v6h-6zM419 271h6v6h-6zM442 271h12v6h-12zM176 277h6v5h-6zM199 277h6v5h-6zM228 277h6v5h-6zM257 277h12v5h-12zM327 277h5v5h-5zM338 277h6v5h-6zM413 277h6v5h-6zM425 277h6v5h-6zM448 277h17v5h-17zM124 282h6v6h-6zM147 282h6v6h-6zM159 282h6v6h-6zM171 282h5v6h-5zM194 282h5v6h-5zM228 282h6v6h-6zM246 282h6v6h-6zM275 282h5v6h-5zM286 282h6v6h-6zM327 282h5v6h-5zM454 282h11v6h-11zM124 288h18v6h-18zM153 288h6v6h-6zM188 288h6v6h-6zM199 288h6v6h-6zM252 288h11v6h-11zM269 288h11v6h-11zM309 288h12v6h-12zM344 288h12v6h-12zM419 288h6v6h-6zM431 288h6v6h-6zM442 288h6v6h-6zM454 288h6v6h-6zM465 288h6v6h-6zM142 294h17v6h-17zM182 294h6v6h-6zM194 294h5v6h-5zM223 294h5v6h-5zM246 294h6v6h-6zM309 294h6v6h-6zM338 294h23v6h-23zM124 300h12v6h-12zM159 300h12v6h-12zM188 300h6v6h-6zM205 300h6v6h-6zM234 300h6v6h-6zM257 300h6v6h-6zM269 300h6v6h-6zM402 300h6v6h-6zM419 300h6v6h-6zM437 300h5v6h-5zM460 300h5v6h-5zM147 306h6v5h-6zM228 306h12v5h-12zM252 306h5v5h-5zM292 306h6v5h-6zM309 306h6v5h-6zM402 306h6v5h-6zM442 306h6v5h-6zM113 311h6v6h-6zM142 311h17v6h-17zM199 311h6v6h-6zM217 311h6v6h-6zM234 311h6v6h-6zM257 311h6v6h-6zM292 311h6v6h-6zM309 311h6v6h-6zM344 311h6v6h-6zM384 311h6v6h-6zM408 311h5v6h-5zM448 311h6v6h-6zM465 311h6v6h-6zM124 317h6v6h-6zM153 317h12v6h-12zM171 317h5v6h-5zM217 317h6v6h-6zM228 317h12v6h-12zM257 317h6v6h-6zM298 317h6v6h-6zM344 317h6v6h-6zM361 317h6v6h-6zM454 317h6v6h-6zM130 323h6v6h-6zM171 323h5v6h-5zM228 323h6v6h-6zM257 323h12v6h-12zM286 323h6v6h-6zM460 323h5v6h-5zM113 329h6v6h-6zM130 329h6v6h-6zM171 329h5v6h-5zM211 329h6v6h-6zM292 329h6v6h-6zM338 329h6v6h-6zM419 329h6v6h-6zM107 335h6v5h-6zM153 335h6v5h-6zM199 335h12v5h-12zM228 335h6v5h-6zM240 335h12v5h-12zM263 335h6v5h-6zM292 335h17v5h-17zM332 335h6v5h-6zM344 335h17v5h-17zM367 335h6v5h-6zM379 335h5v5h-5zM431 335h17v5h-17zM246 340h6v6h-6zM269 340h6v6h-6zM292 340h6v6h-6zM338 340h6v6h-6zM147 346h12v6h-12zM234 346h12v6h-12zM280 346h6v6h-6zM292 346h6v6h-6zM332 346h6v6h-6zM356 346h5v6h-5zM437 346h5v6h-5zM142 352h5v6h-5zM199 352h6v6h-6zM292 352h6v6h-6zM309 352h6v6h-6zM332 352h6v6h-6zM361 352h6v6h-6zM384 352h6v6h-6zM425 352h6v6h-6zM153 358h12v5h-12zM199 358h6v5h-6zM373 358h6v5h-6zM425 358h12v5h-12zM460 358h5v5h-5zM119 363h5v6h-5zM147 363h12v6h-12zM205 363h6v6h-6zM315 363h12v6h-12zM332 363h6v6h-6zM344 363h6v6h-6zM356 363h5v6h-5zM373 363h6v6h-6zM408 363h11v6h-11zM471 363h6v6h-6zM142 369h11v6h-11zM182 369h6v6h-6zM275 369h11v6h-11zM309 369h6v6h-6zM321 369h11v6h-11zM356 369h5v6h-5zM124 375h6v6h-6zM142 375h5v6h-5zM165 375h6v6h-6zM199 375h6v6h-6zM286 375h6v6h-6zM309 375h35v6h-35zM408 375h5v6h-5zM142 381h5v6h-5zM165 381h11v6h-11zM188 381h6v6h-6zM217 381h17v6h-17zM275 381h5v6h-5zM327 381h5v6h-5zM419 381h12v6h-12zM442 381h6v6h-6zM471 381h6v6h-6zM113 387h6v5h-6zM124 387h6v5h-6zM147 387h18v5h-18zM217 387h6v5h-6zM228 387h12v5h-12zM298 387h6v5h-6zM344 387h6v5h-6zM361 387h6v5h-6zM419 387h6v5h-6zM437 387h5v5h-5zM471 387h6v5h-6zM142 392h5v6h-5zM252 392h5v6h-5zM286 392h6v6h-6zM332 392h6v6h-6zM425 392h40v6h-40zM107 398h12v6h-12zM153 398h6v6h-6zM165 398h11v6h-11zM211 398h6v6h-6zM228 398h6v6h-6zM309 398h6v6h-6zM321 398h6v6h-6zM361 398h6v6h-6zM130 404h6v6h-6zM165 404h6v6h-6zM188 404h6v6h-6zM199 404h6v6h-6zM315 404h6v6h-6zM332 404h6v6h-6zM431 404h6v6h-6zM159 410h6v5h-6zM315 410h6v5h-6zM396 410h6v5h-6zM460 410h5v5h-5zM217 415h6v6h-6zM315 415h6v6h-6zM344 415h6v6h-6zM437 415h5v6h-5zM460 415h5v6h-5z"/>
<path fill="#3cffba" d="M113 58h11v5h-11zM309 58h6v5h-6zM327 58h11v5h-11zM390 58h6v5h-6zM113 63h6v6h-6zM136 63h6v6h-6zM223 63h5v6h-5zM275 63h5v6h-5zM332 63h6v6h-6zM390 63h6v6h-6zM408 63h5v6h-5zM437 63h5v6h-5zM448 63h6v6h-6zM124 69h6v5h-6zM199 69h6v5h-6zM384 69h12v5h-12zM419 69h18v5h-18zM442 69h6v5h-6zM113 74h11v6h-11zM240 74h6v6h-6zM327 74h11v6h-11zM379 74h5v6h-5zM437 74h5v6h-5zM113 80h6v6h-6zM199 80h6v6h-6zM246 80h6v6h-6zM321 80h6v6h-6zM350 80h6v6h-6zM384 80h6v6h-6zM419 80h6v6h-6zM113 86h29v6h-29zM228 86h6v6h-6zM280 86h6v6h-6zM304 86h11v6h-11zM413 86h12v6h-12zM431 86h6v6h-6zM448 86h6v6h-6zM460 86h5v6h-5zM119 92h5v5h-5zM280 92h6v5h-6zM425 92h17v5h-17zM113 97h6v6h-6zM223 97h11v6h-11zM246 97h6v6h-6zM309 97h6v6h-6zM350 97h11v6h-11zM384 97h6v6h-6zM425 97h6v6h-6zM437 97h5v6h-5zM119 103h5v6h-5zM165 103h6v6h-6zM223 103h5v6h-5zM234 103h6v6h-6zM252 103h5v6h-5zM113 109h11v6h-11zM199 109h6v6h-6zM223 109h5v6h-5zM240 109h12v6h-12zM269 109h6v6h-6zM280 109h6v6h-6zM327 109h5v6h-5zM384 109h6v6h-6zM437 109h5v6h-5zM136 115h6v6h-6zM165 115h6v6h-6zM228 115h6v6h-6zM240 115h12v6h-12zM361 115h12v6h-12zM413 115h6v6h-6zM454 115h11v6h-11zM113 121h6v5h-6zM124 121h23v5h-23zM205 121h6v5h-6zM263 121h6v5h-6zM280 121h12v5h-12zM321 121h6v5h-6zM373 121h6v5h-6zM384 121h6v5h-6zM408 121h5v5h-5zM437 121h5v5h-5zM454 121h11v5h-11zM153 126h6v6h-6zM205 126h6v6h-6zM234 126h6v6h-6zM286 126h12v6h-12zM379 126h11v6h-11zM465 126h6v6h-6zM124 132h6v6h-6zM234 132h6v6h-6zM263 132h12v6h-12zM280 132h6v6h-6zM327 132h5v6h-5zM384 132h18v6h-18zM413 132h12v6h-12zM442 132h6v6h-6zM147 138h6v6h-6zM228 138h12v6h-12zM298 138h6v6h-6zM321 138h11v6h-11zM361 138h6v6h-6zM425 138h17v6h-17zM454 138h11v6h-11zM147 144h6v6h-6zM223 144h5v6h-5zM257 144h6v6h-6zM332 144h6v6h-6zM361 144h6v6h-6zM390 144h6v6h-6zM437 144h11v6h-11zM107 150h6v5h-6zM119 150h11v5h-11zM136 150h6v5h-6zM147 150h12v5h-12zM338 150h6v5h-6zM419 150h6v5h-6zM431 150h6v5h-6zM448 150h6v5h-6zM119 155h23v6h-23zM147 155h12v6h-12zM176 155h12v6h-12zM419 155h6v6h-6zM130 161h6v6h-6zM142 161h5v6h-5zM159 161h6v6h-6zM182 161h6v6h-6zM240 161h6v6h-6zM286 161h6v6h-6zM321 161h6v6h-6zM350 161h6v6h-6zM367 161h6v6h-6zM396 161h6v6h-6zM419 161h6v6h-6zM454 161h6v6h-6zM465 161h6v6h-6zM124 167h18v6h-18zM171 167h17v6h-17zM211 167h6v6h-6zM344 167h23v6h-23zM413 167h6v6h-6zM142 173h5v5h-5zM153 173h12v5h-12zM176 173h12v5h-12zM194 173h5v5h-5zM234 173h6v5h-6zM309 173h6v5h-6zM338 173h6v5h-6zM356 173h5v5h-5zM454 173h6v5h-6zM165 178h6v6h-6zM182 178h6v6h-6zM194 178h5v6h-5zM332 178h6v6h-6zM460 178h5v6h-5zM124 184h6v6h-6zM142 184h11v6h-11zM165 184h6v6h-6zM176 184h6v6h-6zM309 184h6v6h-6zM327 184h5v6h-5zM350 184h11v6h-11zM367 184h6v6h-6zM408 184h17v6h-17zM431 184h6v6h-6zM454 184h6v6h-6zM465 184h6v6h-6zM119 190h5v6h-5zM130 190h6v6h-6zM147 190h18v6h-18zM176 190h6v6h-6zM304 190h5v6h-5zM384 190h6v6h-6zM460 190h11v6h-11zM130 196h12v6h-12zM159 196h6v6h-6zM176 196h6v6h-6zM292 196h6v6h-6zM309 196h6v6h-6zM367 196h6v6h-6zM384 196h6v6h-6zM437 196h5v6h-5zM460 196h5v6h-5zM147 202h6v5h-6zM292 202h6v5h-6zM384 202h6v5h-6zM408 202h5v5h-5zM437 202h5v5h-5zM448 202h6v5h-6zM465 202h6v5h-6zM147 207h12v6h-12zM165 207h6v6h-6zM176 207h6v6h-6zM304 207h11v6h-11zM338 207h6v6h-6zM419 207h12v6h-12zM437 207h5v6h-5zM454 207h6v6h-6zM113 213h6v6h-6zM275 213h5v6h-5zM321 213h17v6h-17zM379 213h5v6h-5zM396 213h6v6h-6zM408 213h17v6h-17zM460 213h5v6h-5zM298 219h6v6h-6zM309 219h6v6h-6zM321 219h6v6h-6zM350 219h6v6h-6zM379 219h5v6h-5zM402 219h11v6h-11zM425 219h6v6h-6zM437 219h5v6h-5zM454 219h11v6h-11zM136 225h11v5h-11zM159 225h12v5h-12zM194 225h5v5h-5zM298 225h6v5h-6zM327 225h5v5h-5zM379 225h5v5h-5zM390 225h6v5h-6zM413 225h6v5h-6zM425 225h6v5h-6zM437 225h11v5h-11zM460 225h5v5h-5zM130 230h12v6h-12zM159 230h6v6h-6zM304 230h5v6h-5zM327 230h11v6h-11zM373 230h6v6h-6zM384 230h6v6h-6zM396 230h6v6h-6zM437 230h17v6h-17zM113 236h6v6h-6zM136 236h6v6h-6zM153 236h6v6h-6zM194 236h5v6h-5zM361 236h6v6h-6zM390 236h12v6h-12zM442 236h12v6h-12zM460 236h5v6h-5zM471 236h6v6h-6zM107 242h6v6h-6zM153 242h35v6h-35zM252 242h5v6h-5zM413 242h6v6h-6zM425 242h6v6h-6zM442 242h6v6h-6zM460 242h5v6h-5zM136 248h6v6h-6zM176 248h12v6h-12zM194 248h5v6h-5zM217 248h6v6h-6zM252 248h11v6h-11zM269 248h6v6h-6zM338 248h12v6h-12zM437 248h5v6h-5zM460 248h5v6h-5zM107 254h6v5h-6zM119 254h5v5h-5zM142 254h11v5h-11zM159 254h6v5h-6zM176 254h12v5h-12zM194 254h5v5h-5zM217 254h11v5h-11zM234 254h6v5h-6zM286 254h6v5h-6zM356 254h11v5h-11zM402 254h6v5h-6zM413 254h6v5h-6zM454 254h6v5h-6zM113 259h6v6h-6zM136 259h6v6h-6zM159 259h6v6h-6zM171 259h5v6h-5zM188 259h6v6h-6zM205 259h12v6h-12zM240 259h6v6h-6zM252 259h5v6h-5zM280 259h6v6h-6zM344 259h6v6h-6zM367 259h6v6h-6zM402 259h17v6h-17zM431 259h11v6h-11zM448 259h6v6h-6zM460 259h11v6h-11zM130 265h6v6h-6zM142 265h11v6h-11zM165 265h6v6h-6zM182 265h6v6h-6zM199 265h12v6h-12zM223 265h5v6h-5zM286 265h6v6h-6zM402 265h6v6h-6zM413 265h12v6h-12zM113 271h17v6h-17zM136 271h17v6h-17zM165 271h6v6h-6zM182 271h6v6h-6zM211 271h12v6h-12zM228 271h6v6h-6zM269 271h6v6h-6zM309 271h6v6h-6zM321 271h17v6h-17zM367 271h6v6h-6zM413 271h6v6h-6zM431 271h6v6h-6zM460 271h5v6h-5zM119 277h11v5h-11zM136 277h11v5h-11zM182 277h6v5h-6zM205 277h12v5h-12zM223 277h5v5h-5zM234 277h6v5h-6zM304 277h5v5h-5zM344 277h6v5h-6zM361 277h6v5h-6zM402 277h6v5h-6zM419 277h6v5h-6zM431 277h6v5h-6zM136 282h11v6h-11zM165 282h6v6h-6zM176 282h12v6h-12zM211 282h6v6h-6zM234 282h6v6h-6zM252 282h5v6h-5zM298 282h6v6h-6zM315 282h6v6h-6zM356 282h5v6h-5zM442 282h12v6h-12zM465 282h6v6h-6zM142 288h5v6h-5zM159 288h23v6h-23zM194 288h5v6h-5zM234 288h6v6h-6zM304 288h5v6h-5zM361 288h6v6h-6zM413 288h6v6h-6zM437 288h5v6h-5zM448 288h6v6h-6zM113 294h17v6h-17zM136 294h6v6h-6zM159 294h6v6h-6zM176 294h6v6h-6zM234 294h6v6h-6zM252 294h5v6h-5zM263 294h6v6h-6zM275 294h5v6h-5zM304 294h5v6h-5zM315 294h6v6h-6zM408 294h5v6h-5zM419 294h6v6h-6zM437 294h5v6h-5zM448 294h23v6h-23zM142 300h17v6h-17zM217 300h11v6h-11zM246 300h11v6h-11zM275 300h5v6h-5zM304 300h11v6h-11zM338 300h6v6h-6zM356 300h5v6h-5zM390 300h12v6h-12zM408 300h5v6h-5zM425 300h6v6h-6zM442 300h18v6h-18zM465 300h6v6h-6zM119 306h28v5h-28zM153 306h6v5h-6zM176 306h6v5h-6zM188 306h6v5h-6zM211 306h6v5h-6zM269 306h11v5h-11zM286 306h6v5h-6zM338 306h23v5h-23zM390 306h12v5h-12zM408 306h17v5h-17zM431 306h6v5h-6zM448 306h12v5h-12zM465 306h6v5h-6zM130 311h12v6h-12zM165 311h23v6h-23zM252 311h5v6h-5zM298 311h6v6h-6zM315 311h6v6h-6zM332 311h6v6h-6zM402 311h6v6h-6zM413 311h6v6h-6zM425 311h12v6h-12zM442 311h6v6h-6zM460 311h5v6h-5zM142 317h11v6h-11zM165 317h6v6h-6zM176 317h18v6h-18zM205 317h6v6h-6zM263 317h12v6h-12zM292 317h6v6h-6zM315 317h6v6h-6zM390 317h29v6h-29zM425 317h29v6h-29zM460 317h11v6h-11zM119 323h5v6h-5zM136 323h6v6h-6zM147 323h12v6h-12zM182 323h6v6h-6zM205 323h6v6h-6zM217 323h11v6h-11zM234 323h6v6h-6zM309 323h23v6h-23zM350 323h11v6h-11zM396 323h6v6h-6zM408 323h5v6h-5zM425 323h29v6h-29zM471 323h6v6h-6zM136 329h11v6h-11zM153 329h6v6h-6zM240 329h17v6h-17zM263 329h6v6h-6zM384 329h12v6h-12zM425 329h12v6h-12zM442 329h6v6h-6zM460 329h11v6h-11zM147 335h6v5h-6zM159 335h12v5h-12zM176 335h12v5h-12zM217 335h11v5h-11zM234 335h6v5h-6zM280 335h12v5h-12zM338 335h6v5h-6zM361 335h6v5h-6zM384 335h6v5h-6zM147 340h6v6h-6zM159 340h12v6h-12zM176 340h12v6h-12zM199 340h6v6h-6zM217 340h6v6h-6zM228 340h6v6h-6zM240 340h6v6h-6zM350 340h29v6h-29zM425 340h6v6h-6zM454 340h6v6h-6zM142 346h5v6h-5zM159 346h6v6h-6zM171 346h11v6h-11zM188 346h11v6h-11zM217 346h6v6h-6zM252 346h23v6h-23zM286 346h6v6h-6zM304 346h5v6h-5zM338 346h18v6h-18zM361 346h18v6h-18zM384 346h6v6h-6zM419 346h6v6h-6zM431 346h6v6h-6zM448 346h12v6h-12zM471 346h6v6h-6zM153 352h41v6h-41zM223 352h5v6h-5zM234 352h6v6h-6zM257 352h18v6h-18zM286 352h6v6h-6zM327 352h5v6h-5zM338 352h6v6h-6zM350 352h11v6h-11zM367 352h12v6h-12zM419 352h6v6h-6zM431 352h6v6h-6zM442 352h18v6h-18zM471 352h6v6h-6zM107 358h6v5h-6zM136 358h11v5h-11zM165 358h23v5h-23zM194 358h5v5h-5zM211 358h6v5h-6zM228 358h6v5h-6zM257 358h6v5h-6zM269 358h11v5h-11zM309 358h23v5h-23zM338 358h23v5h-23zM367 358h6v5h-6zM408 358h17v5h-17zM437 358h17v5h-17zM124 363h23v6h-23zM159 363h6v6h-6zM176 363h6v6h-6zM217 363h17v6h-17zM240 363h6v6h-6zM257 363h12v6h-12zM304 363h5v6h-5zM327 363h5v6h-5zM338 363h6v6h-6zM350 363h6v6h-6zM419 363h6v6h-6zM437 363h5v6h-5zM448 363h6v6h-6zM119 369h5v6h-5zM130 369h12v6h-12zM159 369h6v6h-6zM176 369h6v6h-6zM217 369h6v6h-6zM228 369h6v6h-6zM240 369h6v6h-6zM252 369h5v6h-5zM315 369h6v6h-6zM332 369h18v6h-18zM373 369h6v6h-6zM402 369h35v6h-35zM448 369h6v6h-6zM147 375h18v6h-18zM176 375h6v6h-6zM205 375h6v6h-6zM223 375h5v6h-5zM263 375h6v6h-6zM344 375h17v6h-17zM379 375h5v6h-5zM413 375h29v6h-29zM448 375h12v6h-12zM471 375h6v6h-6zM119 381h5v6h-5zM153 381h6v6h-6zM176 381h6v6h-6zM234 381h12v6h-12zM252 381h5v6h-5zM292 381h6v6h-6zM315 381h12v6h-12zM332 381h29v6h-29zM379 381h5v6h-5zM402 381h6v6h-6zM413 381h6v6h-6zM431 381h11v6h-11zM448 381h6v6h-6zM119 387h5v5h-5zM130 387h17v5h-17zM165 387h11v5h-11zM199 387h6v5h-6zM223 387h5v5h-5zM240 387h6v5h-6zM269 387h6v5h-6zM286 387h6v5h-6zM309 387h18v5h-18zM338 387h6v5h-6zM373 387h6v5h-6zM396 387h6v5h-6zM413 387h6v5h-6zM425 387h12v5h-12zM442 387h12v5h-12zM113 392h17v6h-17zM147 392h6v6h-6zM159 392h6v6h-6zM217 392h29v6h-29zM263 392h6v6h-6zM304 392h28v6h-28zM344 392h6v6h-6zM356 392h5v6h-5zM408 392h5v6h-5zM119 398h23v6h-23zM147 398h6v6h-6zM159 398h6v6h-6zM199 398h6v6h-6zM217 398h6v6h-6zM234 398h6v6h-6zM298 398h6v6h-6zM327 398h23v6h-23zM425 398h12v6h-12zM442 398h18v6h-18zM471 398h6v6h-6zM124 404h6v6h-6zM142 404h5v6h-5zM205 404h6v6h-6zM228 404h18v6h-18zM321 404h11v6h-11zM344 404h6v6h-6zM437 404h5v6h-5zM448 404h12v6h-12zM165 410h6v5h-6zM240 410h6v5h-6zM309 410h6v5h-6zM327 410h5v5h-5zM338 410h12v5h-12zM425 410h12v5h-12zM448 410h12v5h-12zM113 415h6v6h-6zM205 415h6v6h-6zM223 415h5v6h-5zM240 415h6v6h-6zM309 415h6v6h-6zM321 415h6v6h-6zM332 415h6v6h-6zM350 415h6v6h-6zM361 415h6v6h-6zM396 415h6v6h-6zM442 415h6v6h-6zM171 421h5v6h-5zM199 421h6v6h-6z"/>
<path fill="#73ff83" d="M124 58h6v5h-6zM379 58h5v5h-5zM408 58h5v5h-5zM442 58h6v5h-6zM130 63h6v6h-6zM350 63h6v6h-6zM402 63h6v6h-6zM413 63h12v6h-12zM431 63h6v6h-6zM454 63h6v6h-6zM471 63h6v6h-6zM246 69h6v5h-6zM269 69h6v5h-6zM298 69h6v5h-6zM454 69h11v5h-11zM246 74h6v6h-6zM269 74h6v6h-6zM379 80h5v6h-5zM286 86h6v6h-6zM384 86h6v6h-6zM113 92h6v5h-6zM344 92h6v5h-6zM171 97h5v6h-5zM280 97h6v6h-6zM471 97h6v6h-6zM205 103h6v6h-6zM280 103h6v6h-6zM425 103h6v6h-6zM159 109h6v6h-6zM344 109h6v6h-6zM119 115h5v6h-5zM217 115h6v6h-6zM275 115h5v6h-5zM321 115h6v6h-6zM384 115h6v6h-6zM431 115h6v6h-6zM465 115h12v6h-12zM153 121h6v5h-6zM217 121h6v5h-6zM228 121h6v5h-6zM113 126h6v6h-6zM252 126h5v6h-5zM113 132h6v6h-6zM223 132h5v6h-5zM437 132h5v6h-5zM113 138h6v6h-6zM211 138h6v6h-6zM286 138h6v6h-6zM304 138h5v6h-5zM315 138h6v6h-6zM384 138h6v6h-6zM113 144h6v6h-6zM142 144h5v6h-5zM199 144h6v6h-6zM217 144h6v6h-6zM240 144h12v6h-12zM379 144h11v6h-11zM454 144h6v6h-6zM171 150h11v5h-11zM194 150h5v5h-5zM384 150h6v5h-6zM442 150h6v5h-6zM460 150h5v5h-5zM107 155h6v6h-6zM425 155h12v6h-12zM107 161h6v6h-6zM119 161h5v6h-5zM315 161h6v6h-6zM327 161h5v6h-5zM390 161h6v6h-6zM107 167h6v6h-6zM153 167h12v6h-12zM194 167h5v6h-5zM309 167h6v6h-6zM402 167h6v6h-6zM350 173h6v5h-6zM460 173h5v5h-5zM119 178h5v6h-5zM419 178h6v6h-6zM454 178h6v6h-6zM107 184h6v6h-6zM159 184h6v6h-6zM107 190h6v6h-6zM292 190h6v6h-6zM471 190h6v6h-6zM338 196h6v6h-6zM379 202h5v5h-5zM471 202h6v5h-6zM182 207h6v6h-6zM379 207h11v6h-11zM292 213h6v6h-6zM384 213h6v6h-6zM142 219h5v6h-5zM361 219h6v6h-6zM419 219h6v6h-6zM240 225h6v5h-6zM304 225h11v5h-11zM338 225h23v5h-23zM402 225h6v5h-6zM448 225h6v5h-6zM124 230h6v6h-6zM171 230h5v6h-5zM252 230h5v6h-5zM269 230h6v6h-6zM292 230h6v6h-6zM425 230h6v6h-6zM159 236h6v6h-6zM280 236h6v6h-6zM292 236h6v6h-6zM304 236h5v6h-5zM402 236h6v6h-6zM124 242h12v6h-12zM147 242h6v6h-6zM304 242h5v6h-5zM408 242h5v6h-5zM408 248h5v6h-5zM471 248h6v6h-6zM431 254h6v5h-6zM471 254h6v5h-6zM194 259h5v6h-5zM442 259h6v6h-6zM465 265h6v6h-6zM107 271h6v6h-6zM315 271h6v6h-6zM396 271h6v6h-6zM437 271h5v6h-5zM465 271h6v6h-6zM130 277h6v5h-6zM159 277h6v5h-6zM171 277h5v5h-5zM188 277h11v5h-11zM252 277h5v5h-5zM269 277h17v5h-17zM309 277h6v5h-6zM321 277h6v5h-6zM437 277h5v5h-5zM465 277h6v5h-6zM304 282h5v6h-5zM437 282h5v6h-5zM107 294h6v6h-6zM130 294h6v6h-6zM165 294h6v6h-6zM327 294h11v6h-11zM402 294h6v6h-6zM431 294h6v6h-6zM113 300h11v6h-11zM136 300h6v6h-6zM176 300h6v6h-6zM194 300h5v6h-5zM327 300h5v6h-5zM413 300h6v6h-6zM431 300h6v6h-6zM471 300h6v6h-6zM113 306h6v5h-6zM298 306h6v5h-6zM321 306h6v5h-6zM159 311h6v6h-6zM194 311h5v6h-5zM228 311h6v6h-6zM350 311h11v6h-11zM454 311h6v6h-6zM113 317h11v6h-11zM130 317h6v6h-6zM223 317h5v6h-5zM275 317h5v6h-5zM304 317h5v6h-5zM321 317h6v6h-6zM384 317h6v6h-6zM165 323h6v6h-6zM211 323h6v6h-6zM246 323h11v6h-11zM269 323h6v6h-6zM292 323h12v6h-12zM390 323h6v6h-6zM402 323h6v6h-6zM413 323h12v6h-12zM454 323h6v6h-6zM465 323h6v6h-6zM119 329h11v6h-11zM147 329h6v6h-6zM159 329h12v6h-12zM182 329h6v6h-6zM228 329h6v6h-6zM304 329h5v6h-5zM379 329h5v6h-5zM413 329h6v6h-6zM437 329h5v6h-5zM454 329h6v6h-6zM211 335h6v5h-6zM257 335h6v5h-6zM275 335h5v5h-5zM454 335h6v5h-6zM171 340h5v6h-5zM188 340h6v6h-6zM257 340h6v6h-6zM275 340h5v6h-5zM286 340h6v6h-6zM304 340h5v6h-5zM379 340h5v6h-5zM431 340h6v6h-6zM448 340h6v6h-6zM136 346h6v6h-6zM182 346h6v6h-6zM199 346h6v6h-6zM309 346h6v6h-6zM413 346h6v6h-6zM425 346h6v6h-6zM130 352h12v6h-12zM194 352h5v6h-5zM228 352h6v6h-6zM315 352h6v6h-6zM379 352h5v6h-5zM402 352h6v6h-6zM413 352h6v6h-6zM124 358h12v5h-12zM234 358h6v5h-6zM246 358h6v5h-6zM286 358h6v5h-6zM304 358h5v5h-5zM361 358h6v5h-6zM379 358h5v5h-5zM396 358h12v5h-12zM454 358h6v5h-6zM471 358h6v5h-6zM165 363h11v6h-11zM199 363h6v6h-6zM286 363h6v6h-6zM309 363h6v6h-6zM361 363h6v6h-6zM396 363h12v6h-12zM425 363h6v6h-6zM124 369h6v6h-6zM165 369h6v6h-6zM199 369h6v6h-6zM223 369h5v6h-5zM257 369h6v6h-6zM269 369h6v6h-6zM286 369h6v6h-6zM350 369h6v6h-6zM361 369h6v6h-6zM396 369h6v6h-6zM442 369h6v6h-6zM136 375h6v6h-6zM246 375h6v6h-6zM275 375h5v6h-5zM292 375h6v6h-6zM304 375h5v6h-5zM402 375h6v6h-6zM442 375h6v6h-6zM211 381h6v6h-6zM246 381h6v6h-6zM269 381h6v6h-6zM304 381h11v6h-11zM361 381h6v6h-6zM390 381h6v6h-6zM408 381h5v6h-5zM454 381h6v6h-6zM107 387h6v5h-6zM182 387h6v5h-6zM211 387h6v5h-6zM257 387h6v5h-6zM275 387h5v5h-5zM304 387h5v5h-5zM350 387h11v5h-11zM454 387h6v5h-6zM107 392h6v6h-6zM165 392h11v6h-11zM194 392h5v6h-5zM269 392h6v6h-6zM280 392h6v6h-6zM338 392h6v6h-6zM350 392h6v6h-6zM373 392h6v6h-6zM413 392h6v6h-6zM471 392h6v6h-6zM142 398h5v6h-5zM223 398h5v6h-5zM240 398h6v6h-6zM275 398h5v6h-5zM292 398h6v6h-6zM304 398h5v6h-5zM315 398h6v6h-6zM350 398h6v6h-6zM373 398h6v6h-6zM437 398h5v6h-5zM460 398h5v6h-5zM107 404h12v6h-12zM136 404h6v6h-6zM159 404h6v6h-6zM171 404h5v6h-5zM217 404h11v6h-11zM298 404h6v6h-6zM309 404h6v6h-6zM338 404h6v6h-6zM350 404h6v6h-6zM373 404h6v6h-6zM419 404h6v6h-6zM442 404h6v6h-6zM460 404h5v6h-5zM107 410h6v5h-6zM119 410h11v5h-11zM153 410h6v5h-6zM223 410h17v5h-17zM292 410h17v5h-17zM321 410h6v5h-6zM350 410h17v5h-17zM390 410h6v5h-6zM465 410h6v5h-6zM159 415h6v6h-6zM188 415h6v6h-6zM228 415h12v6h-12zM298 415h6v6h-6zM327 415h5v6h-5zM338 415h6v6h-6zM356 415h5v6h-5zM390 415h6v6h-6zM454 415h6v6h-6zM465 415h6v6h-6zM113 421h6v6h-6zM188 421h6v6h-6zM304 421h5v6h-5zM390 421h12v6h-12z"/>
<path fill="#aaff4d" d="M263 58h6v5h-6zM280 58h6v5h-6zM338 58h6v5h-6zM402 58h6v5h-6zM413 58h6v5h-6zM437 58h5v5h-5zM448 58h6v5h-6zM460 58h5v5h-5zM124 63h6v6h-6zM384 63h6v6h-6zM240 69h6v5h-6zM257 69h6v5h-6zM228 74h6v6h-6zM223 92h5v5h-5zM384 92h6v5h-6zM153 97h6v6h-6zM153 103h6v6h-6zM113 115h6v6h-6zM159 115h6v6h-6zM356 115h5v6h-5zM107 126h6v6h-6zM119 138h5v6h-5zM159 138h6v6h-6zM280 138h6v6h-6zM205 144h6v6h-6zM228 144h12v6h-12zM275 144h11v6h-11zM269 167h6v6h-6zM315 167h6v6h-6zM367 167h6v6h-6zM119 173h5v5h-5zM309 178h6v6h-6zM119 207h5v6h-5zM182 213h6v6h-6zM471 213h6v6h-6zM107 219h12v6h-12zM107 225h6v5h-6zM384 225h6v5h-6zM263 230h6v6h-6zM465 230h6v6h-6zM119 236h5v6h-5zM286 242h6v6h-6zM188 248h6v6h-6zM107 259h6v6h-6zM471 259h6v6h-6zM194 265h5v6h-5zM309 265h6v6h-6zM396 265h6v6h-6zM194 271h5v6h-5zM107 277h6v5h-6zM390 288h6v6h-6zM367 294h6v6h-6zM107 306h6v5h-6zM384 306h6v5h-6zM471 306h6v5h-6zM275 311h5v6h-5zM338 311h6v6h-6zM107 317h6v6h-6zM194 317h5v6h-5zM113 323h6v6h-6zM332 323h6v6h-6zM396 329h6v6h-6zM471 329h6v6h-6zM379 346h5v6h-5zM246 352h6v6h-6zM292 358h6v5h-6zM107 363h6v6h-6zM292 363h6v6h-6zM379 363h5v6h-5zM107 369h6v6h-6zM292 369h6v6h-6zM379 369h5v6h-5zM454 369h6v6h-6zM280 387h6v5h-6zM390 387h6v5h-6zM408 387h5v5h-5zM211 392h6v6h-6zM246 392h6v6h-6zM257 392h6v6h-6zM419 392h6v6h-6zM286 398h6v6h-6zM356 398h5v6h-5zM379 398h5v6h-5zM390 398h6v6h-6zM292 404h6v6h-6zM379 404h5v6h-5zM390 404h6v6h-6zM130 410h6v5h-6zM199 410h6v5h-6zM471 410h6v5h-6zM165 415h11v6h-11zM199 415h6v6h-6zM142 421h5v6h-5zM205 421h6v6h-6z"/>
<path fill="#deff19" d="M136 58h6v5h-6zM286 58h6v5h-6zM321 58h6v5h-6zM361 58h6v5h-6zM373 58h6v5h-6zM396 58h6v5h-6zM419 58h18v5h-18zM454 58h6v5h-6zM119 63h5v6h-5zM142 63h5v6h-5zM165 63h11v6h-11zM113 69h6v5h-6zM171 69h5v5h-5zM292 69h6v5h-6zM217 74h6v6h-6zM465 80h6v6h-6zM465 86h6v6h-6zM153 115h6v6h-6zM107 121h6v5h-6zM338 132h6v6h-6zM465 132h6v6h-6zM344 138h6v6h-6zM130 144h12v6h-12zM211 144h6v6h-6zM252 144h5v6h-5zM298 155h6v6h-6zM107 173h6v5h-6zM465 178h6v6h-6zM194 219h5v6h-5zM107 230h6v6h-6zM165 230h6v6h-6zM379 230h5v6h-5zM176 236h6v6h-6zM425 236h6v6h-6zM119 242h5v6h-5zM194 242h5v6h-5zM205 242h6v6h-6zM471 242h6v6h-6zM107 248h6v6h-6zM379 259h5v6h-5zM107 265h6v6h-6zM107 288h6v6h-6zM471 294h6v6h-6zM107 300h6v6h-6zM194 306h5v5h-5zM367 306h6v5h-6zM471 311h6v6h-6zM471 317h6v6h-6zM107 323h6v6h-6zM188 323h6v6h-6zM367 323h6v6h-6zM107 329h6v6h-6zM142 335h5v5h-5zM448 335h6v5h-6zM471 335h6v5h-6zM408 352h5v6h-5zM454 363h6v6h-6zM304 369h5v6h-5zM107 381h6v6h-6zM292 387h6v5h-6zM292 392h6v6h-6zM390 392h6v6h-6zM246 404h6v6h-6zM286 404h6v6h-6zM356 404h5v6h-5zM465 404h12v6h-12zM136 410h6v5h-6zM107 415h6v6h-6zM124 415h6v6h-6zM153 415h6v6h-6zM211 415h6v6h-6zM373 415h6v6h-6zM431 415h6v6h-6zM448 415h6v6h-6zM471 415h6v6h-6zM240 421h6v6h-6zM315 421h6v6h-6zM402 421h6v6h-6zM431 421h6v6h-6z"/>
<path fill="#ffd300" d="M130 58h6v5h-6zM199 58h6v5h-6zM471 80h6v6h-6zM471 86h6v6h-6zM153 92h6v5h-6zM107 115h6v6h-6zM165 126h6v6h-6zM292 150h6v5h-6zM465 155h6v6h-6zM465 167h6v6h-6zM107 178h6v6h-6zM107 207h6v6h-6zM471 207h6v6h-6zM165 236h11v6h-11zM107 311h6v6h-6zM361 329h6v6h-6zM361 375h6v6h-6zM379 392h5v6h-5zM176 398h6v6h-6zM263 398h6v6h-6zM419 398h6v6h-6zM286 410h6v5h-6zM379 410h5v5h-5zM384 415h6v6h-6zM321 421h6v6h-6zM344 421h6v6h-6zM408 421h5v6h-5zM465 421h6v6h-6z"/>
<path fill="#ff9f00" d="M171 58h5v5h-5zM275 58h5v5h-5zM471 58h6v5h-6zM153 63h6v6h-6zM257 63h6v6h-6zM107 69h6v5h-6zM159 74h6v6h-6zM171 80h5v6h-5zM107 86h6v6h-6zM171 86h5v6h-5zM217 86h6v6h-6zM107 92h6v5h-6zM165 92h6v5h-6zM159 97h12v6h-12zM107 103h6v6h-6zM171 103h5v6h-5zM107 109h6v6h-6zM471 109h6v6h-6zM431 121h6v5h-6zM107 132h6v6h-6zM165 132h6v6h-6zM107 138h6v6h-6zM165 138h11v6h-11zM332 202h6v5h-6zM471 265h6v6h-6zM471 271h6v6h-6zM471 288h6v6h-6zM315 340h6v6h-6zM379 387h5v5h-5zM211 421h6v6h-6zM228 421h12v6h-12zM309 421h6v6h-6zM338 421h6v6h-6zM356 421h5v6h-5zM373 421h6v6h-6z"/>
<path fill="#ff5200" d="M153 58h12v5h-12zM107 80h6v6h-6zM153 80h6v6h-6zM159 121h6v5h-6zM159 126h6v6h-6zM171 126h5v6h-5zM159 132h6v6h-6zM107 144h6v6h-6zM165 144h6v6h-6zM379 415h5v6h-5zM107 421h6v6h-6zM165 421h6v6h-6zM252 421h5v6h-5zM332 421h6v6h-6zM350 421h6v6h-6zM437 421h5v6h-5zM460 421h5v6h-5z"/>
<path fill="#ff1600" d="M159 86h6v6h-6zM153 421h6v6h-6zM246 421h6v6h-6zM298 421h6v6h-6zM471 421h6v6h-6z"/>
<path fill="#920000" d="M240 58h6v5h-6zM361 421h6v6h-6zM442 421h6v6h-6z"/>
<path fill="#0000b6" d="M182 398h6v6h-6zM176 404h12v6h-12z"/>
<path fill="#e40000" d="M153 86h6v6h-6z"/>
<path fill="#ff7700" d="M471 69h6v5h-6zM107 213h6v6h-6zM107 375h6v6h-6zM194 398h5v6h-5z"/>
</g>
<rect x="107.5" y="58.5" width="370" height="369" fill="none" stroke="#000" stroke-width="1.11"/>
<text class="t" x="111.25" y="447.82" text-anchor="middle">0</text>
<text class="t" x="98.66" y="429.93" text-anchor="end">0</text>
<text class="t" x="168.35" y="447.66" text-anchor="middle">10</text>
<text class="t" x="97.23" y="372.02" text-anchor="end">10</text>
<text class="t" x="225.86" y="447.63" text-anchor="middle">20</text>
<text class="t" x="97.65" y="314.24" text-anchor="end">20</text>
<text class="t" x="283.34" y="447.60" text-anchor="middle">30</text>
<text class="t" x="97.15" y="257.37" text-anchor="end">30</text>
<text class="t" x="341.39" y="447.54" text-anchor="middle">40</text>
<text class="t" x="98.12" y="198.65" text-anchor="end">40</text>
<text class="t" x="398.34" y="447.82" text-anchor="middle">50</text>
<text class="t" x="97.23" y="141.17" text-anchor="end">50</text>
<text class="t" x="456.98" y="447.86" text-anchor="middle">60</text>
<text class="t" x="97.68" y="83.47" text-anchor="end">60</text>
<defs><linearGradient id="jet" gradientUnits="userSpaceOnUse" x1="0" y1="410.4" x2="0" y2="74.4"><stop offset="0.0000" stop-color="#000080"/><stop offset="0.0156" stop-color="#000092"/><stop offset="0.0312" stop-color="#0000a4"/><stop offset="0.0469" stop-color="#0000b6"/><stop offset="0.0625" stop-color="#0000c8"/><stop offset="0.0781" stop-color="#0000da"/><stop offset="0.0938" stop-color="#0000ed"/><stop offset="0.1094" stop-color="#0000ff"/><stop offset="0.1250" stop-color="#0000ff"/><stop offset="0.1406" stop-color="#0010ff"/><stop offset="0.1562" stop-color="#0020ff"/><stop offset="0.1719" stop-color="#0030ff"/><stop offset="0.1875" stop-color="#0040ff"/><stop offset="0.2031" stop-color="#0050ff"/><stop offset="0.2188" stop-color="#0060ff"/><stop offset="0.2344" stop-color="#0070ff"/><stop offset="0.2500" stop-color="#0080ff"/><stop offset="0.2656" stop-color="#0090ff"/><stop offset="0.2812" stop-color="#00a0ff"/><stop offset="0.2969" stop-color="#00b0ff"/><stop offset="0.3125" stop-color="#00c0ff"/><stop offset="0.3281" stop-color="#00d0ff"/><stop offset="0.3438" stop-color="#00e0fb"/><stop offset="0.3594" stop-color="#09f0ee"/><stop offset="0.3750" stop-color="#16ffe1"/><stop offset="0.3906" stop-color="#23ffd4"/><stop offset="0.4062" stop-color="#30ffc7"/><stop offset="0.4219" stop-color="#3cffba"/><stop offset="0.4375" stop-color="#49ffad"/><stop offset="0.4531" stop-color="#56ffa0"/><stop offset="0.4688" stop-color="#63ff94"/><stop offset="0.4844" stop-color="#70ff87"/><stop offset="0.5000" stop-color="#7dff7a"/><stop offset="0.5156" stop-color="#87ff70"/><stop offset="0.5312" stop-color="#94ff63"/><stop offset="0.5469" stop-color="#a0ff56"/><stop offset="0.5625" stop-color="#adff49"/><stop offset="0.5781" stop-color="#baff3c"/><stop offset="0.5938" stop-color="#c7ff30"/><stop offset="0.6094" stop-color="#d4ff23"/><stop offset="0.6250" stop-color="#e1ff16"/><stop offset="0.6406" stop-color="#eeff09"/><stop offset="0.6562" stop-color="#fbf100"/><stop offset="0.6719" stop-color="#ffe200"/><stop offset="0.6875" stop-color="#ffd300"/><stop offset="0.7031" stop-color="#ffc400"/><stop offset="0.7188" stop-color="#ffb600"/><stop offset="0.7344" stop-color="#ffa700"/><stop offset="0.7500" stop-color="#ff9800"/><stop offset="0.7656" stop-color="#ff8900"/><stop offset="0.7812" stop-color="#ff7a00"/><stop offset="0.7969" stop-color="#ff6c00"/><stop offset="0.8125" stop-color="#ff5d00"/><stop offset="0.8281" stop-color="#ff4e00"/><stop offset="0.8438" stop-color="#ff3f00"/><stop offset="0.8594" stop-color="#ff3000"/><stop offset="0.8750" stop-color="#ff2200"/><stop offset="0.8906" stop-color="#ff1300"/><stop offset="0.9062" stop-color="#ed0400"/><stop offset="0.9219" stop-color="#da0000"/><stop offset="0.9375" stop-color="#c80000"/><stop offset="0.9531" stop-color="#b60000"/><stop offset="0.9688" stop-color="#a40000"/><stop offset="0.9844" stop-color="#920000"/><stop offset="1.0000" stop-color="#800000"/></linearGradient></defs>
<path d="M501.6 74.4L510.0 57.6L518.4 74.4L518.4 410.4L510.0 427.2L501.6 410.4z" fill="url(#jet)" stroke="#000" stroke-width="1.11" stroke-linejoin="miter"/>
<text class="t" x="528.86" y="416.02">0</text>
<text class="t" x="527.54" y="375.23">50</text>
<text class="t" x="528.30" y="334.35">100</text>
<text class="t" x="528.37" y="294.47">150</text>
<text class="t" x="528.02" y="252.79">200</text>
<text class="t" x="528.01" y="211.99">250</text>
<text class="t" x="527.37" y="171.21">300</text>
<text class="t" x="527.39" y="130.42">350</text>
<text class="t" x="528.31" y="90.52">400</text>
<path d="M110.5 427.6v4.8M107.4 424.5h-4.8M168.5 427.6v4.8M107.4 367.5h-4.8M226.5 427.6v4.8M107.4 309.5h-4.8M283.5 427.6v4.8M107.4 251.5h-4.8M341.5 427.6v4.8M107.4 193.5h-4.8M399.5 427.6v4.8M107.4 136.5h-4.8M457.5 427.6v4.8M107.4 78.5h-4.8M518.9 410.5h4.8M518.9 370.5h4.8M518.9 329.5h4.8M518.9 288.5h4.8M518.9 247.5h4.8M518.9 207.5h4.8M518.9 166.5h4.8M518.9 125.5h4.8M518.9 84.5h4.8" stroke="#000" stroke-width="1.11" fill="none"/>
</svg>
</body></html>
